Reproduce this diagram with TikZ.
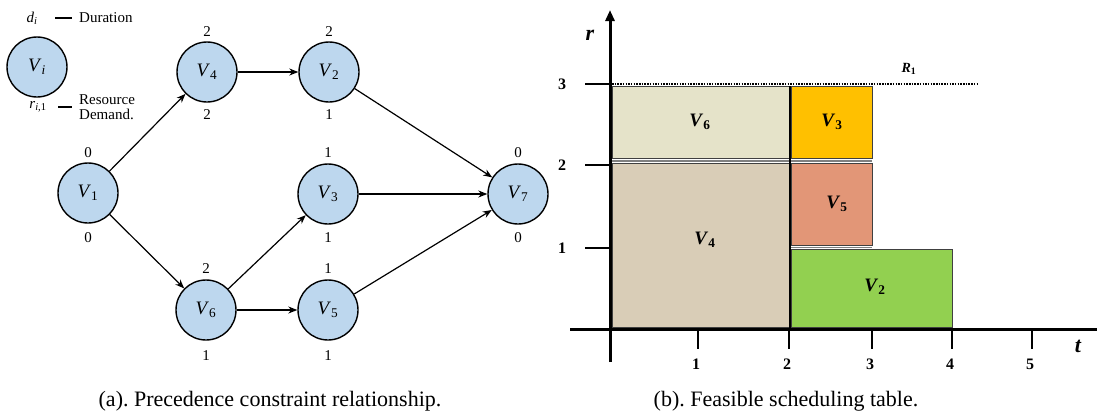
\documentclass[tikz,border=0pt]{standalone}
\usepackage{fontspec}
\setmainfont{Liberation Serif}
\usetikzlibrary{arrows.meta}
\definecolor{nodeblue}{HTML}{BDD7EE}
\definecolor{cVsix}{HTML}{E5E3C9}
\definecolor{cVthree}{HTML}{FFC000}
\definecolor{cVfour}{HTML}{D9CDB7}
\definecolor{cVfive}{HTML}{E29677}
\definecolor{cVtwo}{HTML}{92D050}
\newcommand{\TV}[1]{\textit{V}\textsubscript{#1}}
\newcommand{\BV}[1]{\textbf{\textit{V}\textsubscript{#1}}}
\frenchspacing
\begin{document}
\begin{tikzpicture}[x=1pt,y=-1pt,
  task/.style={circle, draw=black, line width=1.4pt, fill=nodeblue, minimum size=60pt, inner sep=0pt, font=\fontsize{19}{19}\selectfont},
  num/.style={font=\fontsize{15}{15}\selectfont, inner sep=1pt},
  edge/.style={-{Stealth[length=9pt,width=7pt]}, line width=1.2pt},
  blk/.style={draw=black!75, line width=0.9pt},
  blabel/.style={font=\fontsize{19}{19}\selectfont},
  axlabel/.style={font=\fontsize{16}{16}\selectfont\bfseries},
  caption/.style={font=\fontsize{22}{22}\selectfont},
  legtext/.style={font=\fontsize{15}{15}\selectfont, inner sep=0pt},
  axis/.style={line width=3pt},
]
\useasboundingbox (0,0) rectangle (1097,418);

% ---------- (a) precedence graph ----------
\node[task] (Vi) at (37,67) {\TV{\textit{i}}};
\node[legtext] (di) at (32,18) {\textit{d}\textsubscript{\textit{i}}};
\coordinate (dA) at (55,18); \coordinate (dB) at (72,18);
\draw[line width=1.6pt] (dA) -- (dB);
\node[legtext, anchor=west] (dur) at (79,18) {Duration};
\node[legtext] (ri) at (38,107) {\textit{r}\textsubscript{\textit{i},1}};
\coordinate (rA) at (58,107); \coordinate (rB) at (72,107);
\draw[line width=1.6pt] (rA) -- (rB);
\node[legtext, anchor=west, align=left] (res) at (79,107) {Resource\\[0pt]Demand.};

\node[task] (V4) at (207,72) {\TV{4}};
\node[task] (V2) at (329,72) {\TV{2}};
\node[task] (V1) at (88,193) {\TV{1}};
\node[task] (V3) at (328,194) {\TV{3}};
\node[task] (V7) at (518,194) {\TV{7}};
\node[task] (V6) at (206,310) {\TV{6}};
\node[task] (V5) at (328,310) {\TV{5}};

\node[num] (n4a) at (207,32) {2};  \node[num] (n4b) at (207,115) {2};
\node[num] (n2a) at (329,32) {2};  \node[num] (n2b) at (329,115) {1};
\node[num] (n1a) at (88,153) {0};  \node[num] (n1b) at (88,238) {0};
\node[num] (n3a) at (328,153) {1}; \node[num] (n3b) at (328,238) {1};
\node[num] (n7a) at (518,153) {0}; \node[num] (n7b) at (518,238) {0};
\node[num] (n6a) at (206,269) {2}; \node[num] (n6b) at (206,356) {1};
\node[num] (n5a) at (328,269) {1}; \node[num] (n5b) at (328,356) {1};

\draw[edge] (V1) -- (V4);
\draw[edge] (V4) -- (V2);
\draw[edge] (V2) -- (V7);
\draw[edge] (V1) -- (V6);
\draw[edge] (V6) -- (V3);
\draw[edge] (V6) -- (V5);
\draw[edge] (V3) -- (V7);
\draw[edge] (V5) -- (V7);

\node[caption] (capa) at (270,401) {(a). Precedence constraint relationship.};

% ---------- (b) scheduling table ----------
\fill[cVsix] (612,86) rectangle (789,158);
\draw[blk] (612,86) rectangle (789,158);
\fill[cVthree] (791,86) rectangle (872,158);
\draw[blk] (791,86) rectangle (872,158);
\draw[gray, line width=1.2pt] (612,161) -- (872,161);
\fill[cVfour] (612,163) rectangle (789,327);
\draw[blk] (612,163) rectangle (789,327);
\fill[cVfive] (791,163) rectangle (872,245);
\draw[blk] (791,163) rectangle (872,245);
\draw[gray, line width=1pt] (791,247) -- (872,247);
\fill[cVtwo] (791,249) rectangle (952,327);
\draw[blk] (791,249) rectangle (952,327);
\draw[line width=1.6pt] (790,86) -- (790,329);

\node[blabel] (b6) at (700,122) {\BV{6}};
\node[blabel] (b3) at (832,122) {\BV{3}};
\node[blabel] (b4) at (705,240) {\BV{4}};
\node[blabel] (b5) at (837,204) {\BV{5}};
\node[blabel] (b2) at (875,287) {\BV{2}};

% R1 capacity line
\coordinate (Ra) at (612,84); \coordinate (Rb) at (978,84);
\draw[line width=2.2pt, dash pattern=on 1.5pt off 1.2pt] (Ra) -- (Rb);
\node[font=\fontsize{14}{14}\selectfont] (R1) at (909,69) {\textbf{\textit{R}\textsubscript{1}}};

% axes
\coordinate (Ybot) at (610,362); \coordinate (Ytop) at (610,10);
\coordinate (Xl) at (570,329); \coordinate (Xr) at (1097,329);
\draw[axis, -{Triangle[length=11pt,width=9pt]}] (Ybot) -- (Ytop);
\draw[axis] (Xl) -- (Xr);

% y ticks
\foreach \yy/\lab in {84/3,165/2,248/1}{
  \draw[line width=2.6pt] (585,\yy) -- (610,\yy);
  \node[axlabel] at (562,\yy) {\lab};
}
% x ticks
\foreach \xx/\lab in {698/1,789/2,872/3,952/4,1032/5}{
  \draw[line width=2.6pt] (\xx,329) -- (\xx,349);
  \node[axlabel] at (\xx-2,364) {\lab};
}
\node[font=\fontsize{22}{22}\selectfont\bfseries\itshape] (rlab) at (590,35) {r};
\node[font=\fontsize{22}{22}\selectfont\bfseries\itshape] (tlab) at (1078,346) {t};

\node[caption] (capb) at (786,401) {(b). Feasible scheduling table.};
\end{tikzpicture}
\end{document}
